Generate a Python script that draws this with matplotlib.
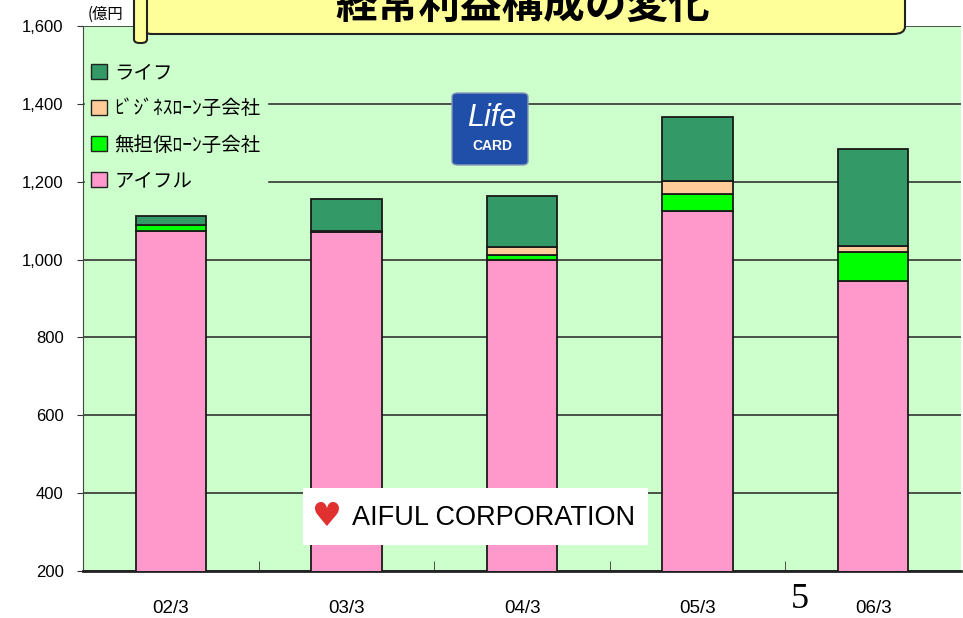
import matplotlib
matplotlib.use("Agg")
import matplotlib.pyplot as plt
from matplotlib.patches import FancyBboxPatch, Rectangle, Patch
import numpy as np

plt.rcParams['font.family'] = ['Liberation Sans', 'Noto Sans CJK JP', 'DejaVu Sans']

# data (億円)
years = ['02/3', '03/3', '04/3', '05/3', '06/3']
aiful = [1073, 1071, 1000, 1124, 945]
unsecured = [15, 2, 12, 44, 74]
business = [0, 0, 20, 33, 16]
life = [24, 82, 131, 164, 250]

series_names = ['アイフル', '無担保ﾛｰﾝ子会社', 'ﾋﾞｼﾞﾈｽﾛｰﾝ子会社', 'ライフ']
colors = ['#FF99CC', '#00FF00', '#FFCC99', '#339966']
bg = '#CCFFCC'

fig = plt.figure(figsize=(9.63, 6.18), dpi=100)
ax = fig.add_axes([83 / 963, 47 / 618, 878 / 963, 545 / 618])
ax.set_facecolor(bg)

x = np.arange(len(years))
bottom = np.zeros(len(years))
handles = []
for vals, c, name in zip([aiful, unsecured, business, life], colors, series_names):
    ax.bar(x, vals, width=0.4, bottom=bottom, color=c, edgecolor='#1a1a1a',
           linewidth=1.3, zorder=3)
    bottom += np.array(vals)
    handles.append(Patch(facecolor=c, edgecolor='#222222', linewidth=1.0, label=name))

ax.set_xlim(-0.5, len(years) - 0.5)
ax.set_ylim(200, 1600)
ax.set_yticks(range(200, 1601, 200))
ax.set_yticklabels([f'{v:,}' for v in range(200, 1601, 200)], fontsize=12)
ax.yaxis.grid(True, color='#333333', linewidth=1.2, zorder=0)
ax.set_axisbelow(True)
ax.tick_params(axis='y', direction='out', length=4, color='#333333', pad=10)

ax.set_xticks(x)
ax.set_xticklabels(years, fontsize=13.5)
ax.tick_params(axis='x', length=0, pad=21)
ax.set_xticks(x[:-1] + 0.5, minor=True)
ax.tick_params(axis='x', which='minor', direction='in', length=7, color='#333333')

for s in ['top', 'right']:
    ax.spines[s].set_visible(False)
ax.spines['left'].set_color('#444444')
ax.spines['bottom'].set_color('#222222')
ax.spines['bottom'].set_linewidth(2)

leg = ax.legend(handles=handles[::-1], loc='upper left', bbox_to_anchor=(-0.004, 0.955),
                frameon=True, facecolor=bg, edgecolor=bg, framealpha=1,
                handlelength=0.8, handleheight=0.8, handletextpad=0.4,
                labelspacing=0.78, borderpad=0.3, borderaxespad=0.3,
                prop={'family': ['Noto Sans CJK JP', 'DejaVu Sans'], 'size': 14})
leg.set_zorder(2)

# unit label
fig.text(88 / 963, 1 - 14 / 618, '(億円', fontsize=11, ha='left', va='center',
         family=['Noto Sans CJK JP', 'DejaVu Sans'])

# title banner
W, H = 963, 618
banner = FancyBboxPatch((141 / W, 1 - 34 / H), 764 / W, 60 / H,
                        boxstyle='round,pad=0,rounding_size=0.012',
                        transform=fig.transFigure, facecolor='#FFFF99',
                        edgecolor='#222222', linewidth=1.5, zorder=10, clip_on=False)
fig.patches.append(banner)
curl = FancyBboxPatch((134 / W, 1 - 43 / H), 13 / W, 60 / H,
                      boxstyle='round,pad=0,rounding_size=0.006',
                      transform=fig.transFigure, facecolor='#FFFF99',
                      edgecolor='#222222', linewidth=1.5, zorder=11, clip_on=False)
fig.patches.append(curl)
fig.text(523 / W, 1 - 6 / H, '経常利益構成の変化', fontsize=30, fontweight='bold',
         ha='center', va='center', zorder=12,
         family=['Noto Sans CJK JP', 'DejaVu Sans'])

# Life Card logo
logo = FancyBboxPatch((452 / W, 1 - 165 / H), 76 / W, 72 / H,
                      boxstyle='round,pad=0,rounding_size=0.006',
                      transform=fig.transFigure, facecolor='#1F4FA8',
                      edgecolor='#8899BB', linewidth=1, zorder=10)
fig.patches.append(logo)
fig.text(492 / W, 1 - 118 / H, 'Life', fontsize=22, style='italic', color='white',
         ha='center', va='center', zorder=11)
fig.text(492 / W, 1 - 146 / H, 'CARD', fontsize=10, fontweight='bold', color='white',
         ha='center', va='center', zorder=11)

# AIFUL logo
white = Rectangle((303 / W, 1 - 545 / H), 345 / W, 57 / H, transform=fig.transFigure,
                  facecolor='white', edgecolor='none', zorder=10)
fig.patches.append(white)
fig.text(326 / W, 1 - 517 / H, '♥', fontsize=24, color='#E03030', ha='center',
         va='center', zorder=11, family=['DejaVu Sans'])
fig.text(352 / W, 1 - 518 / H, 'AIFUL CORPORATION', fontsize=19.5, color='black',
         ha='left', va='center', zorder=11)

# page number
fig.text(800 / W, 1 - 599 / H, '5', fontsize=26, family=['Liberation Serif', 'DejaVu Serif'],
         ha='center', va='center')

fig.savefig('out.png', dpi=100)
